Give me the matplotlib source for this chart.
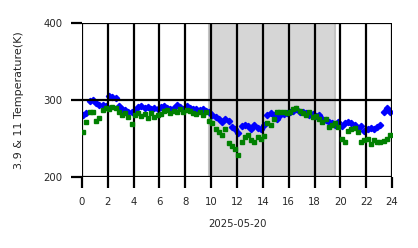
import numpy as np
import matplotlib
matplotlib.use('Agg')
import matplotlib.pyplot as plt

# tempos em horas (amostras a cada 15 min)
horas = np.arange(0.1, 24, 0.25)

# temperatura canal 3.9 (azul)
temp_39 = [280, 283, 299, 300, 296, 293, 294, 292, 305, 304, 303, 292,
           289, 287, 285, 284, 287, 291, 292, 290, 291, 289, 290, 288,
           291, 292, 290, 289, 290, 293, 291, 289, 292, 290, 289, 288,
           287, 288, 286, 285, 281, 278, 275, 272, 276, 273, 265, 262,
           257, 266, 268, 266, 263, 267, 264, 262, 267, 280, 283, 281,
           276, 280, 282, 283, 284, 286, 288, 285, 284, 283, 281, 282,
           279, 281, 276, 274, 272, 270, 268, 271, 266, 270, 272, 270,
           268, 262, 266, 260, 263, 264, 262, 265, 268, 285, 290, 284]

# temperatura canal 11 (verde)
temp_11 = [259, 271, 285, 285, 273, 277, 287, 290, 288, 291, 290, 285,
           281, 283, 278, 269, 280, 283, 279, 282, 277, 283, 278, 280,
           282, 286, 287, 283, 286, 285, 288, 284, 287, 286, 283, 282,
           284, 281, 285, 273, 270, 263, 258, 254, 262, 244, 240, 237,
           229, 245, 252, 254, 248, 246, 252, 250, 253, 270, 267, 276,
           285, 284, 285, 283, 284, 288, 290, 286, 283, 281, 284, 278,
           279, 275, 272, 276, 265, 268, 270, 265, 249, 245, 260, 262,
           264, 259, 245, 248, 250, 243, 248, 245, 246, 247, 250, 254]

# periodo sombreado (dia)
inicio_sombra = 9.8
fim_sombra = 19.6

cor_texto = '#262626'

fig = plt.figure(figsize=(4.18, 2.48), dpi=100)
ax = fig.add_axes([0.196, 0.286, 0.742, 0.621])

ax.axvspan(inicio_sombra, fim_sombra, facecolor='#d6d6d6', edgecolor='#c4c4c4', linewidth=1.5, zorder=0)
ax.plot(horas, temp_39, 'D', color='blue', markersize=3.2, zorder=2)
ax.plot(horas, temp_11, 's', color='green', markersize=2.8, zorder=3)

ax.set_xlim(0, 24)
ax.set_ylim(200, 400)
ax.set_xticks(range(0, 25, 2))
ax.set_yticks([200, 300, 400])
ax.grid(True, color='black', linewidth=1.6, zorder=4)
ax.set_axisbelow(False)
for s in ax.spines.values():
    s.set_visible(False)
ax.tick_params(length=8, width=1.6, labelsize=7.3, pad=6, labelcolor=cor_texto)
ax.set_xlabel('2025-05-20', fontsize=7.3, color=cor_texto, labelpad=9)
ax.set_ylabel('3.9 & 11 Temperature(K)', fontsize=8, color=cor_texto, labelpad=14)

plt.savefig('out.png', dpi=100)
